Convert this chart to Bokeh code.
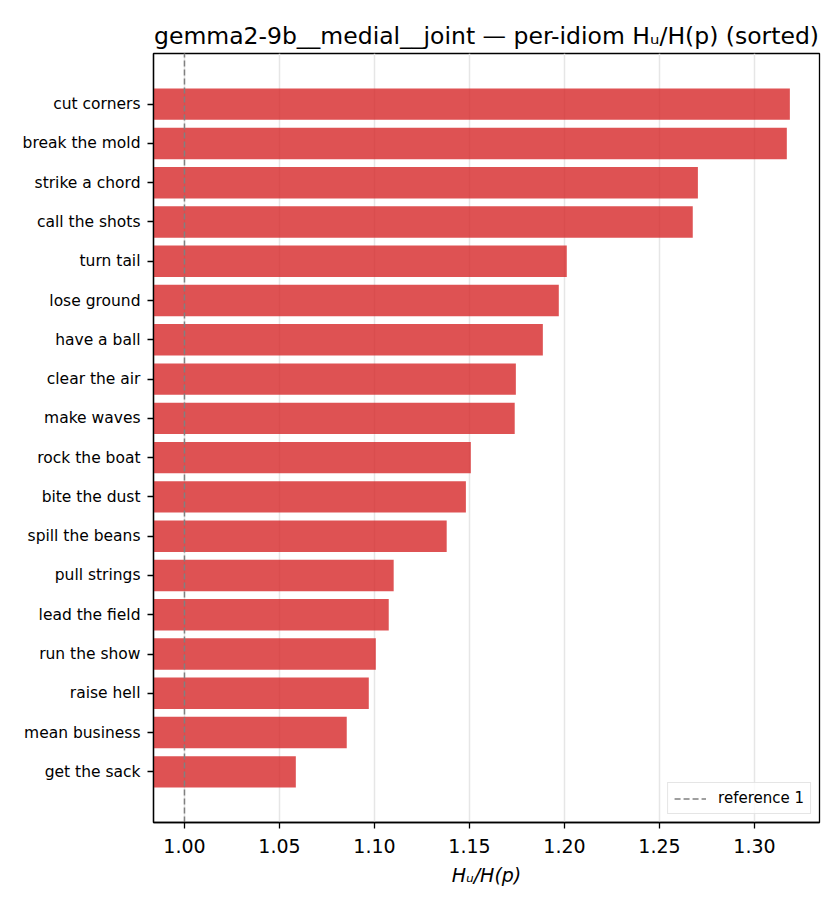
from bokeh.plotting import figure
from bokeh.models import Range1d, Legend, LegendItem, ColumnDataSource, NumeralTickFormatter
from bokeh.embed import file_html
from bokeh.resources import INLINE

idioms = ["cut corners", "break the mold", "strike a chord", "call the shots", "turn tail",
          "lose ground", "have a ball", "clear the air", "make waves", "rock the boat",
          "bite the dust", "spill the beans", "pull strings", "lead the field", "run the show",
          "raise hell", "mean business", "get the sack"]
ratios = [1.3186, 1.3170, 1.2702, 1.2675, 1.2012,
          1.1970, 1.1886, 1.1744, 1.1738, 1.1507,
          1.1481, 1.1380, 1.1101, 1.1075, 1.1007,
          1.0970, 1.0854, 1.0586]
ref_value = 1.0
x_ticks = [1.00, 1.05, 1.10, 1.15, 1.20, 1.25, 1.30]

FONT = "DejaVu Sans"
n = len(idioms)
pos = [n - 1 - i for i in range(n)]
src = ColumnDataSource(dict(idiom=idioms, ratio=ratios, pos=pos))

y_lo, y_hi = -1.29, n - 1 + 1.29
p = figure(width=832, height=898, output_backend="svg", toolbar_location=None,
           x_range=Range1d(0.9837, 1.3342), y_range=Range1d(y_lo, y_hi),
           min_border_left=153, min_border_right=13, min_border_top=53, min_border_bottom=76)

p.hbar(y="pos", right="ratio", left=0, height=0.8, source=src,
       fill_color="#d62728", fill_alpha=0.8, line_color=None)

ref_r = p.line(x=[ref_value, ref_value], y=[y_lo, y_hi], line_color="#808080",
               line_width=1.5, line_dash="6 3")

legend = Legend(items=[LegendItem(label="reference 1", renderers=[ref_r])],
                location="bottom_right", label_text_font=FONT, label_text_font_size="15px",
                label_text_color="black",
                padding=6, spacing=0, label_height=15, glyph_height=15, glyph_width=32,
                label_standoff=12, margin=8, border_line_color="#cccccc", border_line_width=1.5,
                background_fill_alpha=0.8)
p.add_layout(legend)

p.title.text = "gemma2-9b__medial__joint \u2014 per-idiom H\u1d64/H(p) (sorted)"
p.title.align = "center"
p.title.text_font = FONT
p.title.text_font_size = "23.5px"
p.title.text_font_style = "normal"
p.title.text_color = "black"
p.title.standoff = 8

p.xaxis.ticker = x_ticks
p.xaxis.formatter = NumeralTickFormatter(format="0.00")
p.xaxis.axis_label = "H\u1d64/H(p)"
p.xaxis.axis_label_text_font = FONT
p.xaxis.axis_label_text_font_size = "19px"
p.xaxis.axis_label_text_font_style = "italic"
p.xaxis.axis_label_text_color = "black"
p.xaxis.axis_label_standoff = 8
p.xaxis.major_label_text_font_size = "19px"
p.xaxis.major_label_standoff = 10

p.yaxis.ticker = pos
p.yaxis.major_label_overrides = {pp: nm for pp, nm in zip(pos, idioms)}
p.yaxis.major_label_text_font_size = "15.5px"
p.yaxis.major_label_standoff = 7

for ax in (p.xaxis[0], p.yaxis[0]):
    ax.major_label_text_font = FONT
    ax.major_label_text_color = "black"
    ax.minor_tick_line_color = None
    ax.major_tick_in = 0
    ax.major_tick_out = 6
    ax.major_tick_line_width = 1.3
    ax.axis_line_width = 1.3
    ax.axis_line_color = "black"

p.xgrid.grid_line_color = "#e6e6e6"
p.xgrid.grid_line_width = 1.5
p.ygrid.grid_line_color = None
p.outline_line_color = "black"
p.outline_line_width = 1.3
p.outline_line_alpha = 1.0

open("out.html", "w").write(file_html(p, INLINE))
